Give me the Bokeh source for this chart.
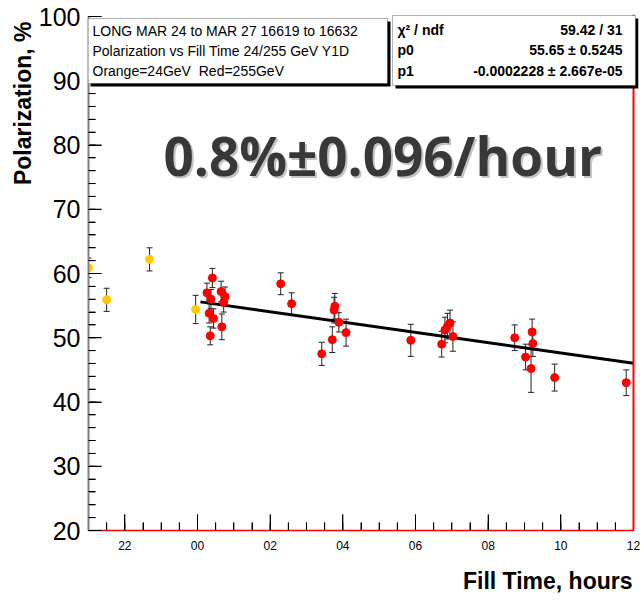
import math
from bokeh.plotting import figure
from bokeh.models import (ColumnDataSource, FixedTicker, Whisker, TeeHead, Label,
                          BoxAnnotation, Span, Range1d, Title)
from bokeh.embed import file_html
from bokeh.resources import INLINE

# ---------------- data (hours relative to midnight, polarization %) ----------------
orange_t = [-3.0, -2.5, -1.32, -0.05]
orange_pol = [60.9, 55.9, 62.2, 54.4]
orange_err = [1.5, 1.8, 1.8, 2.2]

red_t = [0.41, 0.26, 0.37, 0.32, 0.44, 0.35, 0.65, 0.76, 0.72, 0.67,
         2.29, 2.59, 3.78, 3.76, 3.89, 4.09, 3.71, 3.42,
         5.87, 6.72, 6.81, 6.95, 6.88, 7.03,
         8.73, 9.03, 9.21, 9.23, 9.18, 9.83, 11.80]
red_pol = [59.3, 57.0, 56.0, 53.8, 53.0, 50.3, 57.2, 56.4, 55.5, 51.7,
           58.4, 55.3, 54.9, 54.3, 52.4, 50.8, 49.7, 47.5,
           49.6, 49.0, 51.2, 52.3, 51.8, 50.2,
           50.0, 47.0, 50.9, 49.1, 45.2, 43.8, 43.0]
red_err = [1.5, 1.5, 1.5, 1.5, 1.5, 1.4, 1.6, 1.5, 1.5, 2.0,
           1.7, 1.7, 2.0, 2.0, 1.5, 2.1, 2.0, 1.8,
           2.5, 2.0, 2.0, 2.0, 2.0, 2.3,
           2.0, 2.0, 2.0, 2.0, 3.7, 2.1, 2.0]

x_ticks = [-2, 0, 2, 4, 6, 8, 10, 12]
x_tick_labels = ["22", "00", "02", "04", "06", "08", "10", "12"]
x_minor_ticks = [-3.0 + 0.5 * i for i in range(31)]
y_ticks = [20, 30, 40, 50, 60, 70, 80, 90, 100]
y_minor_ticks = list(range(20, 101, 2))

fit_p0 = 55.65          # %
fit_p1 = -0.0002228     # % per second
fit_t = [0.08, 12.0]    # hours

# ---------------- geometry ----------------
AX0, AX1, AY0, AY1 = -3.0, 12.0, 20.0, 100.0   # axis extents
PXH = 545.0 / 15.0      # px per hour
PYU = 514.0 / 80.0      # px per % unit
X0, X1 = AX0, AX1 + 5.0 / PXH      # frame extends a few px right (stats box)
Y0, Y1 = AY0, AY1 + 2.0 / PYU      # and a few px up
FL, FT = 88.0, 14.0                # frame left/top in page px
FB = 530.0

p = figure(width=640, height=606, title=None, output_backend="svg", toolbar_location=None,
           x_range=Range1d(X0, X1), y_range=Range1d(Y0, Y1),
           min_border_left=88, min_border_right=2, min_border_top=14, min_border_bottom=76)
p.grid.visible = False
p.outline_line_color = None
p.background_fill_color = "white"
p.border_fill_color = "white"

def dx(px):
    return X0 + (px - FL) / PXH
def dy(py):
    return Y0 + (FB - py) / PYU

# axes
xa = p.xaxis[0]
xa.bounds = (AX0, AX1)
xa.ticker = FixedTicker(ticks=x_ticks, minor_ticks=x_minor_ticks)
xa.major_label_overrides = {t: l for t, l in zip(x_ticks, x_tick_labels)}
xa.axis_line_color = "red"
xa.axis_line_width = 1.5
xa.major_tick_in = 16
xa.major_tick_out = 0
xa.minor_tick_in = 8
xa.minor_tick_out = 0
xa.major_tick_line_color = "black"
xa.minor_tick_line_color = "black"
xa.major_label_text_font = "Liberation Sans"
xa.major_label_text_font_size = "12px"
xa.major_label_text_color = "black"
xa.major_label_standoff = 10

ya = p.yaxis[0]
ya.bounds = (AY0, AY1)
ya.ticker = FixedTicker(ticks=y_ticks, minor_ticks=y_minor_ticks)
ya.axis_line_color = "#808080"
ya.axis_line_width = 2
ya.major_tick_in = 13
ya.major_tick_out = 0
ya.minor_tick_in = 7
ya.minor_tick_out = 0
ya.major_tick_line_color = "black"
ya.minor_tick_line_color = "black"
ya.major_label_text_font = "Liberation Sans"
ya.major_label_text_font_size = "25px"
ya.major_label_text_color = "black"
ya.major_label_standoff = 8

# tick marks drawn into the frame (ROOT style, inside ticks)
p.segment(x0=x_minor_ticks, y0=[AY0] * len(x_minor_ticks), x1=x_minor_ticks,
          y1=[AY0 + 8.0 / PYU] * len(x_minor_ticks), line_color="black", line_width=1)
p.segment(x0=x_ticks, y0=[AY0] * len(x_ticks), x1=x_ticks,
          y1=[AY0 + 16.0 / PYU] * len(x_ticks), line_color="black", line_width=1)
p.segment(x0=[AX0] * len(y_minor_ticks), y0=y_minor_ticks, x1=[AX0 + 7.0 / PXH] * len(y_minor_ticks),
          y1=y_minor_ticks, line_color="black", line_width=1)
p.segment(x0=[AX0] * len(y_ticks), y0=y_ticks, x1=[AX0 + 13.0 / PXH] * len(y_ticks),
          y1=y_ticks, line_color="black", line_width=1)

# axis titles (a thin spacer pushes the x title a little lower)
p.add_layout(Title(text=" ", text_font_size="1px", standoff=5), "below")
p.add_layout(Title(text="Fill Time, hours", align="right", text_font="Liberation Sans",
                   text_font_style="bold", text_font_size="23px", text_color="black",
                   standoff=10, offset=6), "below")
p.add_layout(Title(text="Polarization, %", align="right", text_font="Liberation Sans",
                   text_font_style="bold", text_font_size="23px", text_color="black",
                   standoff=0, offset=7), "left")

# right frame edge
p.add_layout(Span(location=AX1, dimension="height", line_color="red", line_width=2))

# error bars
for ts, vs, es in ((orange_t, orange_pol, orange_err), (red_t, red_pol, red_err)):
    src = ColumnDataSource(dict(t=ts, up=[v + e for v, e in zip(vs, es)],
                                lo=[v - e for v, e in zip(vs, es)]))
    w = Whisker(base="t", upper="up", lower="lo", source=src, line_color="#222222",
                line_width=1, level="underlay",
                upper_head=TeeHead(size=6, line_color="#222222", line_width=1),
                lower_head=TeeHead(size=6, line_color="#222222", line_width=1))
    p.add_layout(w)

# fit line
fit_v = [fit_p0 + fit_p1 * 3600.0 * t for t in fit_t]
p.line(fit_t, fit_v, line_color="black", line_width=3)

# points
p.scatter(orange_t, orange_pol, size=8, fill_color="#FFCC00", line_color="#FFCC00")
p.scatter(red_t, red_pol, size=8, fill_color="red", line_color="red")

# big rate text
big = "0.8%\u00b10.096/hour"
p.add_layout(Label(x=dx(163), y=dy(155), text=big, text_font="Open Sans",
                   text_font_style="bold", text_font_size="53px", text_color="#c4c4c4",
                   text_baseline="alphabetic", x_offset=2, y_offset=-2))
p.add_layout(Label(x=dx(163), y=dy(155), text=big, text_font="Open Sans",
                   text_font_style="bold", text_font_size="53px", text_color="#383838",
                   text_baseline="alphabetic"))

# info box (left)
p.add_layout(BoxAnnotation(left=dx(90), right=dx(390), top=dy(21), bottom=dy(86),
                           fill_color="black", fill_alpha=1, line_color=None))
p.add_layout(BoxAnnotation(left=dx(87), right=dx(387), top=dy(18), bottom=dy(83),
                           fill_color="white", fill_alpha=1, line_color="black", line_width=1))
info_lines = ["LONG MAR 24 to MAR 27 16619 to 16632",
              "Polarization vs Fill Time 24/255 GeV Y1D",
              "Orange=24GeV\u00a0 Red=255GeV"]
for i, s in enumerate(info_lines):
    p.add_layout(Label(x=dx(92), y=dy(30 + 20 * i), text=s, text_font="Liberation Sans",
                       text_font_size="14px", text_color="black", text_baseline="middle"))

# stats box (right)
p.add_layout(BoxAnnotation(left=dx(395), right=dx(638), top=dy(18), bottom=dy(88),
                           fill_color="black", fill_alpha=1, line_color=None))
p.add_layout(BoxAnnotation(left=dx(392), right=dx(635), top=dy(15), bottom=dy(85),
                           fill_color="white", fill_alpha=1, line_color="black", line_width=1))
stat_names = ["\u03c7\u00b2 / ndf", "p0", "p1"]
stat_vals = ["59.42 / 31", "55.65 \u00b1 0.5245", "-0.0002228 \u00b1 2.667e-05"]
for i, (n, v) in enumerate(zip(stat_names, stat_vals)):
    p.add_layout(Label(x=dx(397), y=dy(29 + 20.5 * i), text=n, text_font="Liberation Sans",
                       text_font_style="bold", text_font_size="14px", text_color="black",
                       text_baseline="middle"))
    p.add_layout(Label(x=dx(622), y=dy(29 + 20.5 * i), text=v, text_font="Liberation Sans",
                       text_font_style="bold", text_font_size="14px", text_color="black",
                       text_baseline="middle", text_align="right"))

open("out.html", "w").write(file_html(p, INLINE))
